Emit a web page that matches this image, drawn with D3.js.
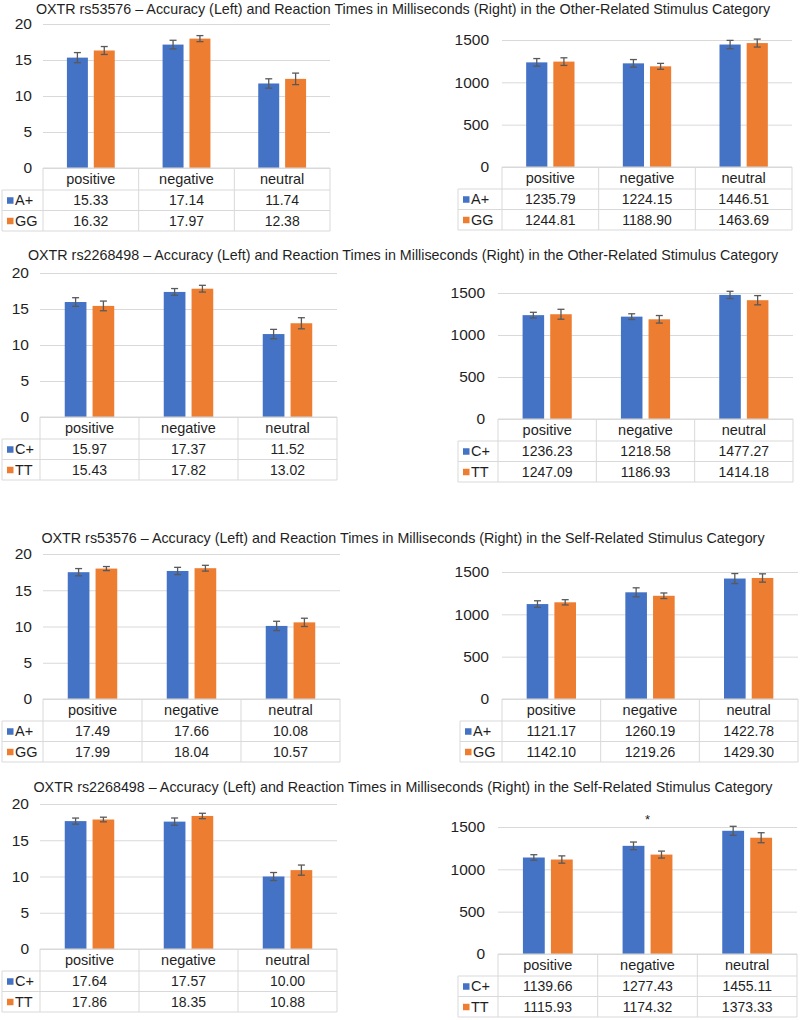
<!DOCTYPE html>
<html>
<head>
<meta charset="utf-8">
<script src="https://cdn.jsdelivr.net/npm/d3@7"></script>
<style>
  body { margin: 0; background: #fff; }
  svg text { font-family: "Liberation Sans", Arial, sans-serif; fill: #1f1f1f; }
</style>
</head>
<body>
<div id="chart"></div>
<script>
const Width = 800;
const Height = 1020;

const categories = ['positive', 'negative', 'neutral'];

const figTitles = [
  'OXTR rs53576 \u2013 Accuracy (Left) and Reaction Times in Milliseconds (Right) in the Other-Related Stimulus Category',
  'OXTR rs2268498 \u2013 Accuracy (Left) and Reaction Times in Milliseconds (Right) in the Other-Related Stimulus Category',
  'OXTR rs53576 \u2013 Accuracy (Left) and Reaction Times in Milliseconds (Right) in the Self-Related Stimulus Category',
  'OXTR rs2268498 \u2013 Accuracy (Left) and Reaction Times in Milliseconds (Right) in the Self-Related Stimulus Category'
];
const genotypes = [['A+', 'GG'], ['C+', 'TT'], ['A+', 'GG'], ['C+', 'TT']];

// means per genotype (rows) and category (columns), error bars
const accOther53576 = [[15.33, 17.14, 11.74], [16.32, 17.97, 12.38]];
const accOther53576Err = [[0.7, 0.6, 0.65], [0.55, 0.42, 0.8]];
const rtOther53576 = [[1235.79, 1224.15, 1446.51], [1244.81, 1188.90, 1463.69]];
const rtOther53576Err = [[45, 45, 49], [45, 35, 47]];

const accOther2268498 = [[15.97, 17.37, 11.52], [15.43, 17.82, 13.02]];
const accOther2268498Err = [[0.6, 0.47, 0.65], [0.67, 0.47, 0.77]];
const rtOther2268498 = [[1236.23, 1218.58, 1477.27], [1247.09, 1186.93, 1414.18]];
const rtOther2268498Err = [[34, 34, 43], [59, 45, 55]];

const accSelf53576 = [[17.49, 17.66, 10.08], [17.99, 18.04, 10.57]];
const accSelf53576Err = [[0.5, 0.5, 0.64], [0.28, 0.4, 0.57]];
const rtSelf53576 = [[1121.17, 1260.19, 1422.78], [1142.10, 1219.26, 1429.30]];
const rtSelf53576Err = [[39, 53, 59], [31, 33, 49]];

const accSelf2268498 = [[17.64, 17.57, 10.00], [17.86, 18.35, 10.88]];
const accSelf2268498Err = [[0.42, 0.5, 0.55], [0.32, 0.37, 0.7]];
const rtSelf2268498 = [[1139.66, 1277.43, 1455.11], [1115.93, 1174.32, 1373.33]];
const rtSelf2268498Err = [[33, 45, 53], [43, 41, 59]];

const accTicks = [0, 5, 10, 15, 20];
const rtTicks = [0, 500, 1000, 1500];

// significance marks: figure index and category
const starMarks = [{ figure: 3, category: 'negative' }];

const colors = ['#4472C4', '#ED7D31'];

// page layout, one entry per figure
const layout = [
  { titleY: 14, left: { x0: 43, x1: 330, yTop: 24, y0: 168, legX: 2 }, right: { x0: 502, x1: 792, yTop: 40, y0: 167, legX: 458 } },
  { titleY: 260, left: { x0: 40, x1: 337, yTop: 273, y0: 417, legX: 2 }, right: { x0: 498, x1: 793, yTop: 293, y0: 419, legX: 458 } },
  { titleY: 543, left: { x0: 43, x1: 340, yTop: 554, y0: 699, legX: 2 }, right: { x0: 502, x1: 798, yTop: 572, y0: 699, legX: 460 } },
  { titleY: 792, left: { x0: 40, x1: 337, yTop: 804, y0: 949, legX: 2 }, right: { x0: 498, x1: 797, yTop: 827, y0: 954, legX: 458 } }
];

const figures = [
  { acc: accOther53576, accErr: accOther53576Err, rt: rtOther53576, rtErr: rtOther53576Err },
  { acc: accOther2268498, accErr: accOther2268498Err, rt: rtOther2268498, rtErr: rtOther2268498Err },
  { acc: accSelf53576, accErr: accSelf53576Err, rt: rtSelf53576, rtErr: rtSelf53576Err },
  { acc: accSelf2268498, accErr: accSelf2268498Err, rt: rtSelf2268498, rtErr: rtSelf2268498Err }
];

const svg = d3.select('#chart').append('svg')
  .attr('width', Width)
  .attr('height', Height);

const HeaderH = 22;
const RowH = 20.5;
const GridColor = '#d9d9d9';
const fmt = d3.format('.2f');

function drawPanel(box, means, errs, groups, ticks, stars) {
  const g = svg.append('g');

  const x = d3.scaleBand().domain(categories).range([box.x0, box.x1]);
  const bw = x.bandwidth();
  const xs = d3.scaleBand().domain(d3.range(groups.length))
    .range([bw * 0.25, bw * 0.75]).paddingInner(0.22);
  const y = d3.scaleLinear().domain([0, d3.max(ticks)]).range([box.y0, box.yTop]);

  // gridlines + tick labels
  const axis = g.append('g')
    .attr('transform', 'translate(' + box.x0 + ',0)')
    .call(d3.axisLeft(y).tickValues(ticks).tickFormat(d3.format('d'))
      .tickSize(-(box.x1 - box.x0)).tickPadding(box.legX > 100 ? 13 : 11));
  axis.select('.domain').remove();
  axis.selectAll('line').attr('stroke', GridColor);
  axis.selectAll('text').style('font-size', '15.5px').attr('fill', '#1f1f1f');

  // bars
  const rows = means.map((vals, si) => vals.map((v, ci) => ({ si, cat: categories[ci], v, e: errs[si][ci] })));
  const flat = rows.flat();
  g.selectAll('rect.bar').data(flat).enter().append('rect')
    .attr('class', 'bar')
    .attr('x', d => x(d.cat) + xs(d.si))
    .attr('y', d => y(d.v))
    .attr('width', xs.bandwidth())
    .attr('height', d => y(0) - y(d.v))
    .attr('fill', d => colors[d.si]);

  // error bars
  const eb = g.selectAll('g.err').data(flat).enter().append('g')
    .attr('class', 'err')
    .attr('transform', d => 'translate(' + (x(d.cat) + xs(d.si) + xs.bandwidth() / 2) + ',0)')
    .attr('stroke', '#595959').attr('stroke-width', 1.3);
  eb.append('line').attr('y1', d => y(d.v + d.e)).attr('y2', d => y(d.v - d.e));
  eb.append('line').attr('x1', -3.5).attr('x2', 3.5).attr('y1', d => y(d.v + d.e)).attr('y2', d => y(d.v + d.e));
  eb.append('line').attr('x1', -3.5).attr('x2', 3.5).attr('y1', d => y(d.v - d.e)).attr('y2', d => y(d.v - d.e));

  // significance marks
  g.selectAll('text.star').data(stars).enter().append('text')
    .attr('class', 'star')
    .attr('x', d => x(d.category) + bw / 2)
    .attr('y', y(d3.max(ticks)) - 3)
    .attr('text-anchor', 'middle')
    .style('font-size', '13px')
    .text('*');

  // data table
  const t0 = box.y0;
  const tb = t0 + HeaderH + RowH * groups.length;
  const lines = g.append('g').attr('stroke', GridColor).attr('stroke-width', 1);
  lines.append('line').attr('x1', box.x0).attr('x2', box.x1).attr('y1', t0).attr('y2', t0);
  d3.range(groups.length + 1).forEach(i => {
    const yy = t0 + HeaderH + RowH * i;
    lines.append('line').attr('x1', box.legX).attr('x2', box.x1).attr('y1', yy).attr('y2', yy);
  });
  categories.forEach(c => {
    lines.append('line').attr('x1', x(c)).attr('x2', x(c)).attr('y1', t0).attr('y2', tb);
  });
  lines.append('line').attr('x1', box.x1).attr('x2', box.x1).attr('y1', t0).attr('y2', tb);
  lines.append('line').attr('x1', box.legX).attr('x2', box.legX).attr('y1', t0 + HeaderH).attr('y2', tb);

  g.selectAll('text.head').data(categories).enter().append('text')
    .attr('class', 'head')
    .attr('x', d => x(d) + bw / 2)
    .attr('y', t0 + HeaderH / 2)
    .attr('dy', '0.36em')
    .attr('text-anchor', 'middle')
    .style('font-size', '14.5px')
    .text(d => d);

  g.selectAll('text.val').data(flat).enter().append('text')
    .attr('class', 'val')
    .attr('x', d => x(d.cat) + bw / 2)
    .attr('y', d => t0 + HeaderH + RowH * d.si + RowH / 2)
    .attr('dy', '0.36em')
    .attr('text-anchor', 'middle')
    .style('font-size', '14px')
    .text(d => fmt(d.v));

  const leg = g.selectAll('g.leg').data(groups).enter().append('g')
    .attr('class', 'leg')
    .attr('transform', (d, i) => 'translate(' + box.legX + ',' + (t0 + HeaderH + RowH * i + RowH / 2) + ')');
  leg.append('rect').attr('x', 5).attr('y', -3).attr('width', 6.5).attr('height', 6.5)
    .attr('fill', (d, i) => colors[i]);
  leg.append('text').attr('x', 13).attr('dy', '0.36em').style('font-size', '14.5px').text(d => d);
}

figures.forEach((f, i) => {
  const L = layout[i];
  svg.append('text')
    .attr('x', 403)
    .attr('y', L.titleY)
    .attr('text-anchor', 'middle')
    .style('font-size', '14.3px')
    .text(figTitles[i]);
  const stars = starMarks.filter(s => s.figure === i);
  drawPanel(L.left, f.acc, f.accErr, genotypes[i], accTicks, []);
  drawPanel(L.right, f.rt, f.rtErr, genotypes[i], rtTicks, stars);
});
</script>
</body>
</html>
